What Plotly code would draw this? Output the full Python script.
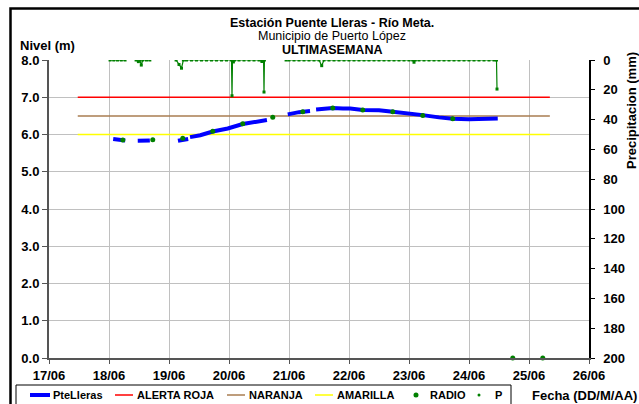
import plotly.graph_objects as go

# nivel del rio en PteLleras (m); None = hueco en el registro
nivel_fecha = [
    "2012-06-18 01:40", "2012-06-18 04:05", "2012-06-18 06:30", None,
    "2012-06-18 11:30", "2012-06-18 14:00", "2012-06-18 16:20", None,
    "2012-06-19 03:35", "2012-06-19 06:00", "2012-06-19 07:40", None,
    "2012-06-19 08:25", "2012-06-19 12:30", "2012-06-19 17:30", "2012-06-19 23:30",
    "2012-06-20 05:30", "2012-06-20 10:20", "2012-06-20 13:40", "2012-06-20 15:10", None,
    "2012-06-20 23:30", "2012-06-21 04:00", "2012-06-21 08:25", None,
    "2012-06-21 10:50", "2012-06-21 14:25", "2012-06-21 17:30", "2012-06-21 21:35",
    "2012-06-22 00:30", "2012-06-22 05:30", "2012-06-22 12:00", "2012-06-22 17:30",
    "2012-06-23 00:00", "2012-06-23 05:30", "2012-06-23 12:00", "2012-06-23 17:30",
    "2012-06-24 00:00", "2012-06-24 06:00", "2012-06-24 11:30",
]
nivel_m = [
    5.88, 5.86, 5.84, None,
    5.83, 5.83, 5.84, None,
    5.83, 5.87, 5.88, None,
    5.93, 5.98, 6.08, 6.16,
    6.28, 6.33, 6.36, 6.39, None,
    6.54, 6.60, 6.63, None,
    6.67, 6.70, 6.71, 6.70,
    6.70, 6.66, 6.65, 6.61,
    6.57, 6.52, 6.46, 6.42,
    6.41, 6.42, 6.43,
]

# lecturas de radio (m)
radio_fecha = [
    "2012-06-18 05:30", "2012-06-18 17:30", "2012-06-19 05:30", "2012-06-19 17:30",
    "2012-06-20 05:30", "2012-06-20 17:30", "2012-06-21 05:30", "2012-06-21 17:30",
    "2012-06-22 05:30", "2012-06-22 17:30", "2012-06-23 05:30", "2012-06-23 17:30",
    "2012-06-24 17:30", "2012-06-25 05:30",
]
radio_m = [5.85, 5.86, 5.90, 6.09, 6.29, 6.46, 6.61, 6.71, 6.66, 6.61, 6.51, 6.42, 0.0, 0.0]

# precipitacion (mm)
p_fecha = [
    "2012-06-18 00:25", "2012-06-18 01:55", "2012-06-18 03:25", "2012-06-18 04:55",
    "2012-06-18 06:25", None,
    "2012-06-18 10:50", "2012-06-18 11:45", "2012-06-18 12:20", "2012-06-18 12:55",
    "2012-06-18 13:30", "2012-06-18 15:00", "2012-06-18 16:20", None,
    "2012-06-19 02:50", "2012-06-19 04:00", "2012-06-19 05:00", "2012-06-19 05:45",
    "2012-06-19 07:00", "2012-06-19 09:00", "2012-06-19 11:00", "2012-06-19 13:00",
    "2012-06-19 15:00", "2012-06-19 17:00", "2012-06-19 19:00", "2012-06-19 21:00",
    "2012-06-19 23:00", "2012-06-20 01:00", "2012-06-20 01:12", "2012-06-20 01:24",
    "2012-06-20 01:45", "2012-06-20 02:15", "2012-06-20 04:00", "2012-06-20 06:00",
    "2012-06-20 08:00", "2012-06-20 10:00", "2012-06-20 12:00", "2012-06-20 13:10",
    "2012-06-20 13:50", "2012-06-20 14:00", "2012-06-20 14:10", None,
    "2012-06-20 22:50", "2012-06-21 00:00", "2012-06-21 02:00", "2012-06-21 04:00",
    "2012-06-21 06:00", "2012-06-21 08:00", "2012-06-21 10:00", "2012-06-21 12:00",
    "2012-06-21 13:05", "2012-06-21 14:00", "2012-06-21 16:00", "2012-06-21 18:00",
    "2012-06-21 20:00", "2012-06-21 22:00",
    "2012-06-22 00:00", "2012-06-22 02:00", "2012-06-22 04:00", "2012-06-22 06:00",
    "2012-06-22 08:00", "2012-06-22 10:00", "2012-06-22 12:00", "2012-06-22 14:00",
    "2012-06-22 16:00", "2012-06-22 18:00", "2012-06-22 20:00", "2012-06-22 22:00",
    "2012-06-23 00:00", "2012-06-23 01:30", "2012-06-23 02:00", "2012-06-23 02:30",
    "2012-06-23 04:00", "2012-06-23 06:00", "2012-06-23 08:00", "2012-06-23 10:00",
    "2012-06-23 12:00", "2012-06-23 14:00", "2012-06-23 16:00", "2012-06-23 18:00",
    "2012-06-23 20:00", "2012-06-23 22:00",
    "2012-06-24 00:00", "2012-06-24 02:00", "2012-06-24 04:00", "2012-06-24 06:00",
    "2012-06-24 08:00", "2012-06-24 10:00", "2012-06-24 11:00", "2012-06-24 11:12",
]
p_mm = [
    0, 0, 0, 0,
    0, None,
    0, 1.1, 0, 3.4,
    0, 0, 0, None,
    0, 3.0, 5.5, 0,
    0, 0, 0, 0,
    0, 0, 0, 0,
    0, 0, 24.0, 0,
    1.3, 0, 0, 0,
    0, 0, 0, 1.0,
    0, 21.5, 0, None,
    0, 0, 0, 0,
    0, 0, 0, 0,
    3.8, 0, 0, 0,
    0, 0,
    0, 0, 0, 0,
    0, 0, 0, 0,
    0, 0, 0, 0,
    0, 0, 1.5, 0,
    0, 0, 0, 0,
    0, 0, 0, 0,
    0, 0,
    0, 0, 0, 0,
    0, 0, 0, 19.5,
]

# umbrales de alerta (m)
umbral_fecha = ["2012-06-17 11:30", "2012-06-25 08:20"]
alerta_roja = 7.0
naranja = 6.5
amarilla = 6.0

AZUL = "#0000ff"
ROJO = "#ff0000"
CAFE = "#a97c50"
AMAR = "#ffff00"
VERDE = "#008000"
FONT = "Liberation Sans, Arial, sans-serif"

# area de trazado en pixeles de la pagina
L, R, T, B = 49, 589, 60, 358


def px(x):
    return (x - L) / (R - L)


def py(y):
    return (B - y) / (B - T)


fig = go.Figure()

for nombre, valor, color in [("ALERTA ROJA", alerta_roja, ROJO),
                             ("NARANJA", naranja, CAFE),
                             ("AMARILLA", amarilla, AMAR)]:
    fig.add_trace(go.Scatter(x=umbral_fecha, y=[valor, valor], mode="lines", name=nombre,
                             line=dict(color=color, width=1.5)))

fig.add_trace(go.Scatter(x=nivel_fecha, y=nivel_m, mode="lines", name="PteLleras",
                         line=dict(color=AZUL, width=4)))

fig.add_trace(go.Scatter(x=radio_fecha, y=radio_m, mode="markers", name="RADIO",
                         marker=dict(color=VERDE, size=5), cliponaxis=False))

fig.add_trace(go.Scatter(x=p_fecha, y=p_mm, yaxis="y2", mode="lines+markers", name="P",
                         line=dict(color=VERDE, width=1.2),
                         marker=dict(color=VERDE, size=3, symbol="square")))

fig.update_layout(
    width=639, height=404,
    margin=dict(l=L, r=639 - R, t=T, b=404 - B, autoexpand=False),
    paper_bgcolor="white", plot_bgcolor="white",
    font=dict(family=FONT, size=13, color="black"),
    showlegend=False,
    xaxis=dict(type="date", range=["2012-06-17", "2012-06-26"], tick0="2012-06-17",
               dtick=86400000, tickformat="%d/%m", showgrid=True, gridcolor="#c0c0c0",
               showline=True, linecolor="#555555", linewidth=2, ticks="outside",
               ticklen=4, tickcolor="#555555", zeroline=False,
               tickfont=dict(size=13, weight="bold")),
    yaxis=dict(range=[0, 8], dtick=1, tickformat=".1f", showgrid=True, gridcolor="#c0c0c0",
               showline=True, linecolor="#555555", linewidth=2, ticks="outside",
               ticklen=5, tickcolor="#555555", zeroline=False,
               tickfont=dict(size=13, weight="bold")),
    yaxis2=dict(overlaying="y", side="right", range=[200, 0], dtick=20, showgrid=False,
                showline=True, linecolor="black", linewidth=1.5, ticks="outside",
                ticklen=4, tickcolor="black", zeroline=False, ticklabelstandoff=6,
                tickfont=dict(size=13, weight="bold")),
)

# marco exterior del grafico
fig.add_shape(type="rect", xref="paper", yref="paper", x0=px(10.5), x1=px(700),
              y0=py(460), y1=py(8.5), line=dict(color="black", width=2.5), layer="above")

# leyenda dibujada a mano para respetar el espaciado del original
ly = py(395)
fig.add_shape(type="rect", xref="paper", yref="paper", x0=px(16), x1=px(511),
              y0=py(420), y1=py(385), line=dict(color="black", width=1),
              fillcolor="white", layer="above")
for x0, x1, color, w in [(30, 50, AZUL, 4), (115, 133, ROJO, 1.5),
                         (227, 245, CAFE, 1.5), (315, 333, AMAR, 1.5)]:
    fig.add_shape(type="line", xref="paper", yref="paper", x0=px(x0), x1=px(x1),
                  y0=ly, y1=ly, line=dict(color=color, width=w), layer="above")
for cx, r in [(416, 2.5), (479, 1.5)]:
    fig.add_shape(type="circle", xref="paper", yref="paper", x0=px(cx - r), x1=px(cx + r),
                  y0=py(395 + r), y1=py(395 - r), line=dict(width=0),
                  fillcolor=VERDE, layer="above")
for tx, texto in [(51, "PteLleras"), (135, "ALERTA ROJA"), (247, "NARANJA"),
                  (335, "AMARILLA"), (428, "RADIO"), (493, "P")]:
    fig.add_annotation(text="<b>" + texto + "</b>", xref="paper", yref="paper", x=px(tx),
                       y=ly, xanchor="left", yanchor="middle", showarrow=False,
                       font=dict(size=11))

# titulo en tres lineas, muy juntas como en el original
anots = [
    dict(text="<b>Estación Puente Lleras - Río Meta.</b>", x=px(332), y=py(22.5)),
    dict(text="Municipio de Puerto López", x=px(332), y=py(36.5)),
    dict(text="<b>ULTIMASEMANA</b>", x=px(332), y=py(50)),
]
for a in anots:
    fig.add_annotation(xref="paper", yref="paper", xanchor="center", yanchor="middle",
                       showarrow=False, font=dict(size=12.5), borderpad=0, **a)

fig.add_annotation(text="<b>Nivel (m)</b>", xref="paper", yref="paper", x=px(18), y=py(46),
                   xanchor="left", yanchor="middle", showarrow=False, font=dict(size=13))
fig.add_annotation(text="<b>Precipitacion (mm)</b>", xref="paper", yref="paper", x=px(631),
                   y=py(111), xanchor="center", yanchor="middle", textangle=-90,
                   showarrow=False, font=dict(size=13))
fig.add_annotation(text="<b>Fecha (DD/M/AA)</b>", xref="paper", yref="paper", x=px(584),
                   y=ly, xanchor="center", yanchor="middle", showarrow=False,
                   font=dict(size=13))

fig.write_html("out.html", config={"displayModeBar": False},
               post_script="document.body.style.margin='0';")
